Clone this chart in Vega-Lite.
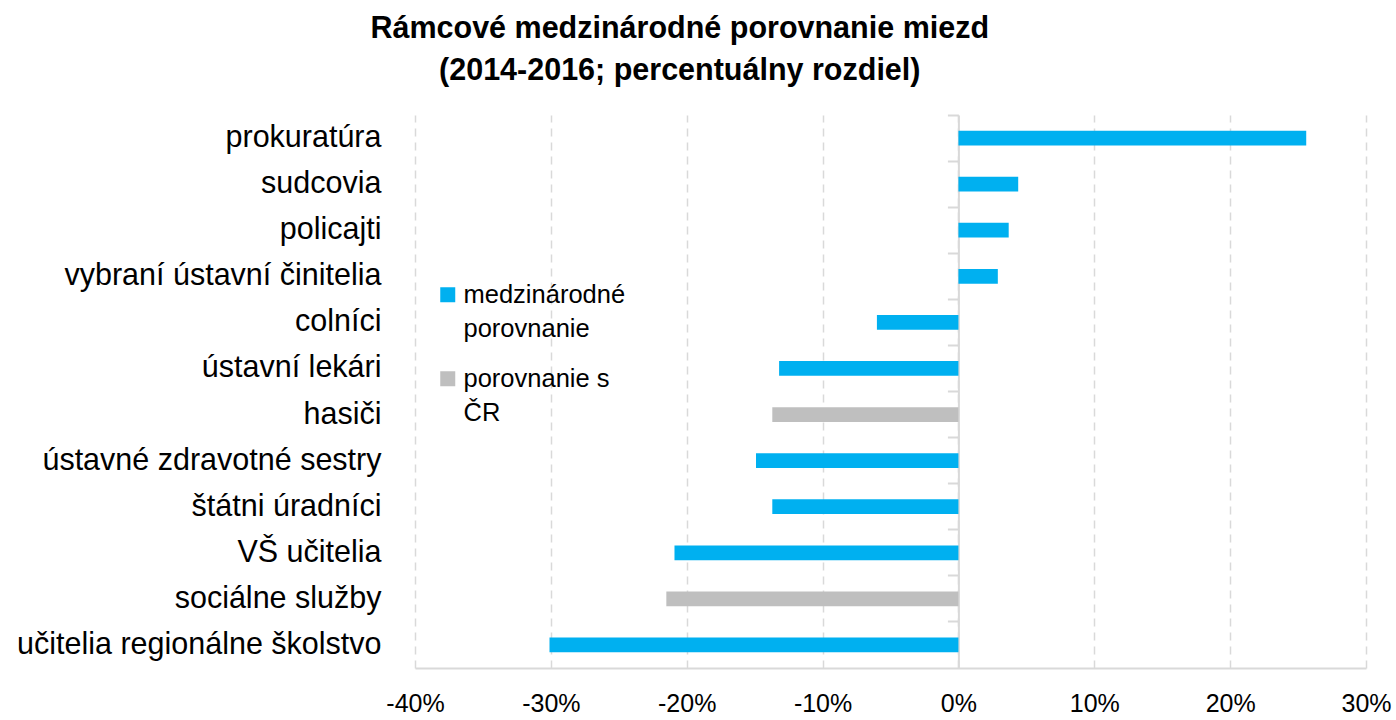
{
  "$schema": "https://vega.github.io/schema/vega-lite/v6.json",
  "width": 951,
  "height": 553,
  "autosize": {"type": "none"},
  "padding": {"left": 415, "top": 115, "right": 30, "bottom": 52},
  "background": "#ffffff",
  "title": {
    "text": ["Rámcové medzinárodné porovnanie miezd", "(2014-2016; percentuálny rozdiel)"],
    "font": "Liberation Sans",
    "fontSize": 30.5,
    "fontWeight": "bold",
    "color": "#000000",
    "lineHeight": 42,
    "anchor": "middle",
    "frame": "bounds",
    "dx": -24,
    "offset": 28
  },
  "config": {
    "view": {"stroke": null},
    "font": "Liberation Sans",
    "style": {"guide-label": {"lineHeight": 34}}
  },
  "data": {
    "values": [
      {"kategoria": "prokuratúra", "hodnota": 0.256, "typ": "medzinárodné porovnanie"},
      {"kategoria": "sudcovia", "hodnota": 0.044, "typ": "medzinárodné porovnanie"},
      {"kategoria": "policajti", "hodnota": 0.037, "typ": "medzinárodné porovnanie"},
      {"kategoria": "vybraní ústavní činitelia", "hodnota": 0.029, "typ": "medzinárodné porovnanie"},
      {"kategoria": "colníci", "hodnota": -0.060, "typ": "medzinárodné porovnanie"},
      {"kategoria": "ústavní lekári", "hodnota": -0.132, "typ": "medzinárodné porovnanie"},
      {"kategoria": "hasiči", "hodnota": -0.137, "typ": "porovnanie s ČR"},
      {"kategoria": "ústavné zdravotné sestry", "hodnota": -0.149, "typ": "medzinárodné porovnanie"},
      {"kategoria": "štátni úradníci", "hodnota": -0.137, "typ": "medzinárodné porovnanie"},
      {"kategoria": "VŠ učitelia", "hodnota": -0.209, "typ": "medzinárodné porovnanie"},
      {"kategoria": "sociálne služby", "hodnota": -0.215, "typ": "porovnanie s ČR"},
      {"kategoria": "učitelia regionálne školstvo", "hodnota": -0.301, "typ": "medzinárodné porovnanie"}
    ]
  },
  "layer": [
    {
      "mark": {"type": "bar", "height": {"band": 0.32}},
      "encoding": {
        "y": {
          "field": "kategoria",
          "type": "nominal",
          "sort": null,
          "scale": {"paddingInner": 0, "paddingOuter": 0},
          "axis": {
            "title": null,
            "orient": "left",
            "domain": false,
            "ticks": false,
            "tickSize": 0,
            "grid": false,
            "labelPadding": 34,
            "labelFontSize": 30.5,
            "labelColor": "#000000",
            "labelFont": "Liberation Sans",
            "labelLimit": 600
          }
        },
        "x": {
          "field": "hodnota",
          "type": "quantitative",
          "scale": {"domain": [-0.4, 0.3], "nice": false, "zero": false},
          "axis": {
            "title": null,
            "format": ".0%",
            "labelExpr": "replace(datum.label, '−', '-')",
            "values": [-0.4, -0.3, -0.2, -0.1, 0, 0.1, 0.2, 0.3],
            "grid": true,
            "gridColor": "#d9d9d9",
            "gridDash": [8, 6],
            "gridWidth": 1.5,
            "domain": true,
            "domainColor": "#d9d9d9",
            "domainWidth": 2,
            "ticks": false,
            "tickSize": 0,
            "labelPadding": 23,
            "labelFontSize": 25,
            "labelColor": "#000000",
            "labelFont": "Liberation Sans",
            "labelFlush": false
          }
        },
        "color": {
          "field": "typ",
          "type": "nominal",
          "scale": {"domain": ["medzinárodné porovnanie", "porovnanie s ČR"], "range": ["#00B0F0", "#BFBFBF"]},
          "legend": {
            "title": null,
            "orient": "none",
            "legendX": 20,
            "legendY": 167,
            "symbolType": "square",
            "symbolSize": 225,
            "symbolStrokeWidth": 0,
            "labelFontSize": 25.5,
            "labelColor": "#000000",
            "labelFont": "Liberation Sans",
            "labelLimit": 400,
            "labelOffset": 3,
            "rowPadding": 23,
            "labelExpr": "datum.label == 'medzinárodné porovnanie' ? ['medzinárodné', 'porovnanie'] : ['porovnanie s', 'ČR']"
          }
        }
      }
    },
    {
      "mark": {"type": "bar", "opacity": 0},
      "encoding": {
        "y": {
          "field": "kategoria",
          "type": "nominal",
          "sort": null,
          "axis": {
            "title": null,
            "orient": "left",
            "offset": -543.4,
            "labels": false,
            "domain": true,
            "domainColor": "#d9d9d9",
            "domainWidth": 2,
            "ticks": true,
            "tickColor": "#d9d9d9",
            "tickWidth": 2,
            "tickSize": 11,
            "bandPosition": 0,
            "grid": false
          }
        },
        "x": {"field": "hodnota", "type": "quantitative"}
      }
    }
  ],
  "resolve": {"axis": {"y": "independent"}}
}
